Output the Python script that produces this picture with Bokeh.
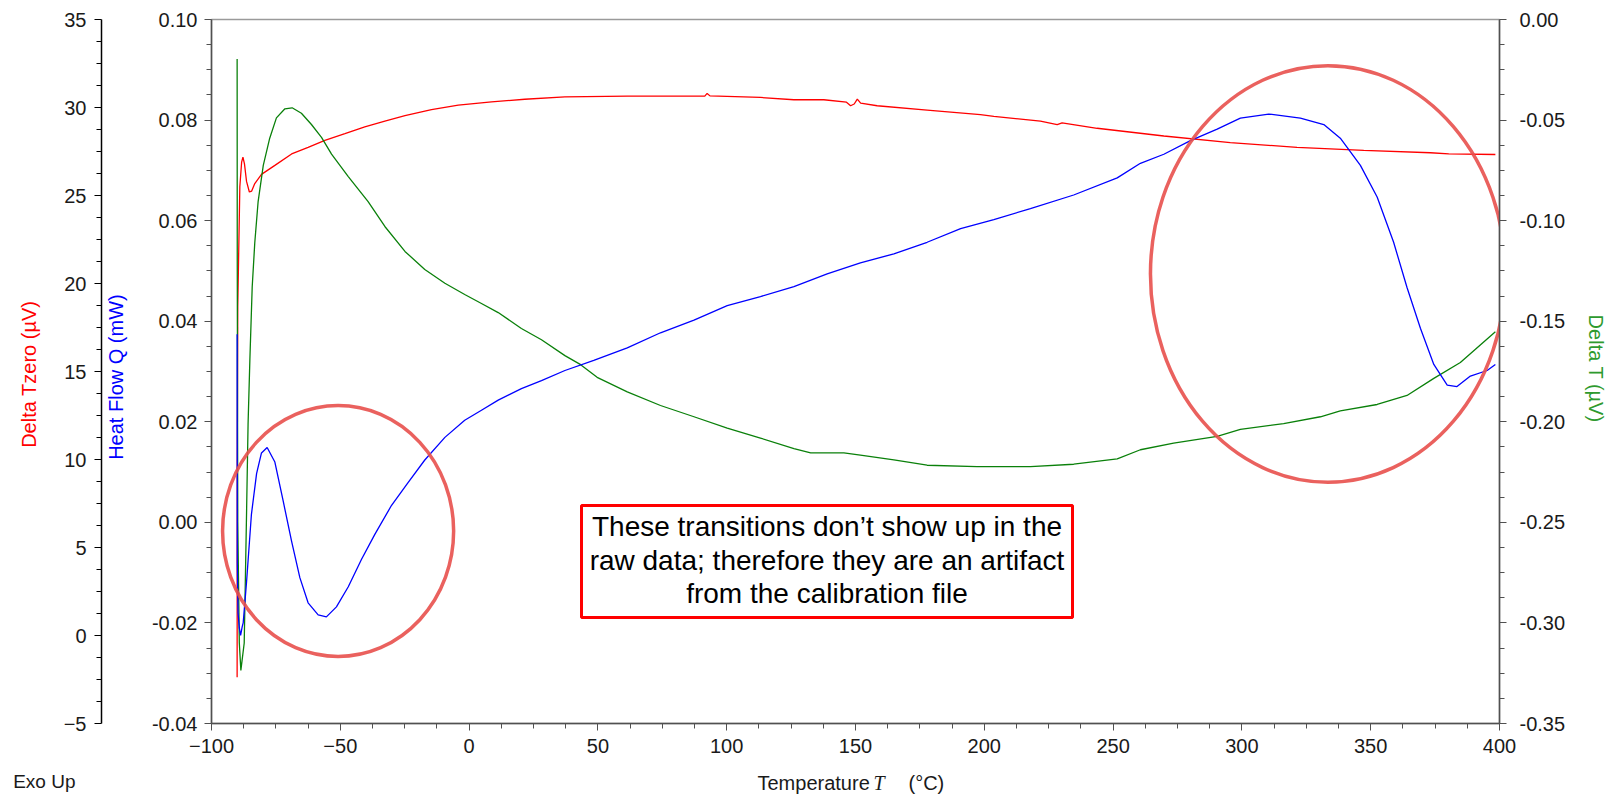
from bokeh.plotting import figure
from bokeh.models import (LinearAxis, Range1d, FixedTicker, NumeralTickFormatter,
                          BoxAnnotation, Label)
from bokeh.layouts import column
from bokeh.embed import file_html
from bokeh.resources import INLINE

# ---------------- data ----------------
X_TICKS = [-100, -50, 0, 50, 100, 150, 200, 250, 300, 350, 400]
Q_TICKS = [-0.04, -0.02, 0.0, 0.02, 0.04, 0.06, 0.08, 0.10]
TZ_TICKS = [-5, 0, 5, 10, 15, 20, 25, 30, 35]
DT_TICKS = [-0.35, -0.30, -0.25, -0.20, -0.15, -0.10, -0.05, 0.0]

# Heat Flow Q (mW) - blue
T_HEAT = [-90.05, -90.0, -89.7, -89.2, -88.7, -88.1, -87.7, -86.4, -84.5, -82.5, -80.6,
          -78.4, -75.4, -72.2, -68.9, -65.7, -62.5, -58.6, -55.4, -51.5, -46.9, -41.8,
          -36.6, -30.1, -23.7, -17.2, -9.4, -1.7, 4.8, 11.3, 20.3, 28.1, 37.2, 48.4,
          61.4, 74.3, 87.3, 100.2, 113.1, 126.1, 139.0, 151.9, 164.9, 177.8, 190.8,
          203.7, 217.9, 234.7, 251.6, 260.6, 269.7, 280.0, 290.4, 299.4, 310.4, 322.7,
          331.8, 338.2, 346.0, 352.5, 358.9, 364.1, 369.3, 374.5, 379.7, 383.5, 388.7,
          395.2, 398.4]
Q_HEAT = [0.0374, -0.008, -0.018, -0.021, -0.0225, -0.0208, -0.020, -0.0119, 0.0016,
          0.0097, 0.0138, 0.0149, 0.0120, 0.0043, -0.0038, -0.0110, -0.0160, -0.0184,
          -0.0188, -0.0168, -0.0128, -0.0074, -0.0024, 0.0034, 0.0079, 0.0124, 0.0169,
          0.0203, 0.0223, 0.0243, 0.0266, 0.0282, 0.0302, 0.0322, 0.0347, 0.0377,
          0.0402, 0.0431, 0.0449, 0.0469, 0.0494, 0.0516, 0.0534, 0.0557, 0.0584,
          0.0602, 0.0624, 0.0651, 0.0685, 0.0714, 0.0732, 0.0759, 0.0782, 0.0804,
          0.0812, 0.0804, 0.0791, 0.0764, 0.0710, 0.0647, 0.0557, 0.0467, 0.0386,
          0.0314, 0.0273, 0.0270, 0.0291, 0.0302, 0.0314]

# Delta T (µV) - green
T_DELTA = [-90.05, -90.0, -89.8, -89.2, -88.6, -87.3, -86.4, -85.8, -85.1, -84.2, -83.2,
           -81.9, -79.9, -77.4, -74.8, -71.5, -68.7, -65.1, -61.2, -57.3, -53.4, -46.9,
           -39.2, -32.7, -24.9, -17.2, -9.4, -1.7, 4.8, 11.3, 20.3, 28.1, 37.2, 43.3,
           49.7, 61.4, 74.3, 87.3, 100.2, 113.1, 126.1, 132.6, 145.5, 151.9, 164.9,
           177.8, 197.2, 217.9, 234.7, 251.6, 260.6, 273.5, 290.4, 299.4, 316.2, 330.5,
           338.2, 352.5, 364.1, 374.5, 384.8, 398.4]
DT_DELTA = [-0.0196, -0.120, -0.250, -0.310, -0.3236, -0.310, -0.246, -0.201, -0.169,
            -0.133, -0.111, -0.0905, -0.0725, -0.059, -0.0489, -0.0444, -0.0439,
            -0.0466, -0.0522, -0.0586, -0.0669, -0.0781, -0.0905, -0.1029, -0.1153,
            -0.1243, -0.1311, -0.1367, -0.1412, -0.1457, -0.1536, -0.1592, -0.1671,
            -0.1716, -0.1779, -0.1851, -0.1919, -0.1975, -0.2031, -0.2081, -0.2133,
            -0.2155, -0.2155, -0.2166, -0.2189, -0.2216, -0.2223, -0.2223, -0.2211,
            -0.2184, -0.2139, -0.2106, -0.2072, -0.2038, -0.2009, -0.1975, -0.1946,
            -0.1914, -0.1869, -0.1784, -0.1705, -0.1552]

# Delta Tzero (µV) - red
T_TZERO = [-90.05, -90.0, -89.8, -89.0, -88.3, -87.8, -87.2, -86.4, -85.3, -84.4, -83.2,
           -80.6, -75.4, -68.9, -62.5, -56.0, -48.2, -40.5, -32.7, -24.9, -14.6, -4.2,
           8.7, 21.6, 37.2, 61.4, 87.3, 91.5, 92.4, 93.5, 113.1, 126.1, 137.7, 146.5,
           148.1, 149.5, 150.7, 152.0, 158.4, 177.8, 198.5, 203.7, 221.8, 228.3, 230.2,
           243.8, 269.7, 295.5, 321.4, 347.3, 373.2, 380.3, 398.4]
TZ_TZERO = [-2.37, 10.0, 18.7, 25.5, 26.9, 27.18, 26.8, 25.8, 25.2, 25.25, 25.68, 26.2,
            26.71, 27.36, 27.74, 28.13, 28.51, 28.9, 29.23, 29.54, 29.88, 30.14, 30.32,
            30.47, 30.6, 30.65, 30.65, 30.65, 30.8, 30.66, 30.57, 30.44, 30.44, 30.3,
            30.1, 30.2, 30.48, 30.25, 30.1, 29.85, 29.59, 29.49, 29.23, 29.03, 29.13,
            28.82, 28.38, 28.0, 27.74, 27.56, 27.43, 27.36, 27.33]

FONT = "Liberation Sans"
TXT = "#1a1a1a"
W, H_MAIN, H_FOOT = 1611, 768, 26
LEFT, RIGHT = 211, 112


def minor(ticks, n=4):
    out = []
    for a, b in zip(ticks[:-1], ticks[1:]):
        step = (b - a) / n
        out += [a + step * k for k in range(1, n)]
    return out


p = figure(width=W, height=H_MAIN,
           x_range=Range1d(-100, 400), y_range=Range1d(-0.04, 0.10),
           output_backend="svg", toolbar_location=None,
           min_border_left=LEFT, min_border_right=RIGHT,
           min_border_top=19, min_border_bottom=H_MAIN - 19 - 704)
p.extra_y_ranges = {"tz": Range1d(-5, 35), "dt": Range1d(-0.35, 0.0)}
p.grid.visible = False
p.background_fill_color = "white"
p.border_fill_color = "white"
p.outline_line_color = "#9a9a9a"
p.outline_line_width = 1.5


def style(ax, line_color="#505050", label_color=TXT):
    ax.major_label_text_font = FONT
    ax.major_label_text_font_size = "20px"
    ax.major_label_text_color = TXT
    ax.axis_label_text_font = FONT
    ax.axis_label_text_font_size = "20px"
    ax.axis_label_text_font_style = "normal"
    ax.axis_label_text_color = label_color
    ax.axis_line_color = line_color
    ax.axis_line_width = 1.5
    ax.major_tick_line_color = line_color
    ax.minor_tick_line_color = line_color
    ax.major_tick_out = 7
    ax.major_tick_in = 0
    ax.minor_tick_out = 5
    ax.minor_tick_in = 0


# x axis
xa = p.xaxis[0]
xa.ticker = FixedTicker(ticks=X_TICKS, minor_ticks=minor(X_TICKS))
style(xa)
xa.major_label_standoff = 8

# inner left axis: heat flow
ya = p.yaxis[0]
ya.ticker = FixedTicker(ticks=Q_TICKS, minor_ticks=minor(Q_TICKS))
ya.formatter = NumeralTickFormatter(format="0.00")
style(ya, label_color="#0000FF")
ya.axis_label = "Heat Flow  Q  (mW)"
ya.major_label_standoff = 7
ya.axis_label_standoff = 22

# outer left axis: delta tzero
tz = LinearAxis(y_range_name="tz",
                ticker=FixedTicker(ticks=TZ_TICKS, minor_ticks=minor(TZ_TICKS)))
style(tz, line_color="#000000", label_color="#FF0000")
tz.axis_label = "Delta Tzero  (µV)"
tz.major_label_standoff = 8
tz.axis_label_standoff = 21
p.add_layout(tz, "left")

# right axis: delta T
dt = LinearAxis(y_range_name="dt",
                ticker=FixedTicker(ticks=DT_TICKS, minor_ticks=minor(DT_TICKS)),
                formatter=NumeralTickFormatter(format="0.00"))
style(dt, label_color="#2e9a2e")
dt.axis_label = "Delta T  (µV)"
dt.major_label_standoff = 13
dt.axis_label_standoff = 17
p.add_layout(dt, "right")

# curves
p.line(T_TZERO, TZ_TZERO, y_range_name="tz", line_color="#FF0000", line_width=1.3)
p.line(T_DELTA, DT_DELTA, y_range_name="dt", line_color="#0a800a", line_width=1.3)
p.line(T_HEAT, Q_HEAT, line_color="#0000FF", line_width=1.3)

# highlight ellipses
p.ellipse(x=[-50.85], y=[-0.00172], width=[89.7], height=[0.0499],
          fill_color=None, line_color="#E8504C", line_width=3.5, line_alpha=0.9)
p.ellipse(x=[333.4], y=[0.0494], width=[137.8], height=[0.0829],
          fill_color=None, line_color="#E8504C", line_width=3.5, line_alpha=0.9)

# note box
p.add_layout(BoxAnnotation(left=370, right=861, top=218, bottom=106,
                           left_units="screen", right_units="screen",
                           top_units="screen", bottom_units="screen",
                           fill_color="white", fill_alpha=1.0,
                           line_color="#FF0000", line_width=3, line_alpha=1.0))
NOTE = ["These transitions don\u2019t show up in the",
        "raw data; therefore they are an artifact",
        "from the calibration file"]
for i, line in enumerate(NOTE):
    p.add_layout(Label(x=615.5, y=197 - 33.5 * i, x_units="screen", y_units="screen",
                       text=line, text_align="center", text_baseline="middle",
                       text_font=FONT, text_font_size="28px", text_color="#000000"))

# footer strip: x axis title (with italic symbol) and "Exo Up"
# (its frame lines up with the main frame: 211 .. 1499)
f = figure(width=W, height=H_FOOT, x_range=Range1d(0, 1), y_range=Range1d(0, 1),
           output_backend="svg", toolbar_location=None, x_axis_location=None,
           min_border_left=LEFT, min_border_right=RIGHT,
           min_border_top=0, min_border_bottom=0)
f.grid.visible = False
f.outline_line_color = None
f.background_fill_color = "white"
f.border_fill_color = "white"
fy = f.yaxis[0]
fy.ticker = FixedTicker(ticks=[], minor_ticks=[])
fy.axis_line_color = None
fy.major_tick_line_color = None
fy.minor_tick_line_color = None
fy.major_tick_out = 0
fy.minor_tick_out = 0
fy.major_tick_in = 0
fy.minor_tick_in = 0
fy.major_label_standoff = 0
fy.axis_label = "Exo Up"
fy.axis_label_orientation = "horizontal"
fy.axis_label_standoff = 136
fy.axis_label_text_font = FONT
fy.axis_label_text_font_size = "19px"
fy.axis_label_text_font_style = "normal"
fy.axis_label_text_color = TXT

FOOT_Y = 12
for txt, x0, fnt, style_ in [("Temperature", 757 - LEFT, FONT, "normal"),
                             ("T", 873 - LEFT, "Liberation Serif", "italic"),
                             ("(°C)", 908 - LEFT, FONT, "normal")]:
    f.add_layout(Label(x=x0, y=FOOT_Y, x_units="screen", y_units="screen", text=txt,
                       text_align="left", text_baseline="middle", text_font=fnt,
                       text_font_style=style_, text_font_size="20px",
                       text_color=TXT))

layout = column(p, f, spacing=0)
open("out.html", "w").write(file_html(layout, INLINE))
